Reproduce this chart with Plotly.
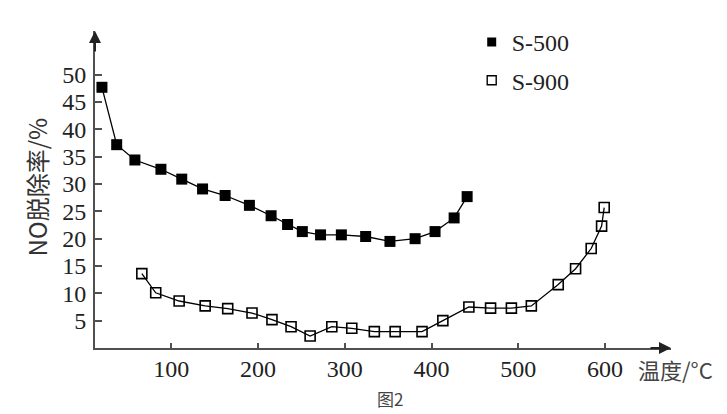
import plotly.graph_objects as go

# Data
temp_s500 = [20, 37, 58, 88, 112, 136, 162, 190, 215, 234, 251, 272, 296, 324, 352, 381, 404, 426, 441]
no_s500 = [47.7, 37.2, 34.4, 32.7, 30.9, 29.1, 27.9, 26.1, 24.2, 22.6, 21.3, 20.7, 20.7, 20.4, 19.5, 20.0, 21.3, 23.8, 27.7]

temp_s900 = [66, 82, 109, 139, 165, 193, 216, 238, 260, 285, 308, 334, 358, 389, 413, 443, 468, 492, 515, 546, 566, 584, 596, 599]
no_s900 = [13.6, 10.1, 8.6, 7.7, 7.2, 6.4, 5.2, 3.9, 2.2, 3.9, 3.6, 3.0, 3.0, 3.0, 5.0, 7.5, 7.3, 7.3, 7.7, 11.6, 14.5, 18.2, 22.3, 25.7]

x_ticks = [100, 200, 300, 400, 500, 600]
y_ticks = [5, 10, 15, 20, 25, 30, 35, 40, 45, 50]
series_names = ["S-500", "S-900"]

SERIF = "Liberation Serif"
CJK = "Noto Sans CJK SC"
AX = "#505050"

fig = go.Figure()
fig.add_trace(go.Scatter(
    x=temp_s500, y=no_s500, mode="lines+markers", showlegend=False,
    line=dict(color="black", width=1.3),
    marker=dict(symbol="square", size=11, color="black"),
))
fig.add_trace(go.Scatter(
    x=temp_s900, y=no_s900, mode="lines+markers", showlegend=False,
    line=dict(color="black", width=1.3),
    marker=dict(symbol="square-open", size=10, color="black", line=dict(width=1.6)),
))
# legend-only entries
fig.add_trace(go.Scatter(
    x=[None], y=[None], mode="markers", name=series_names[0], legendgroup="a",
    marker=dict(symbol="square", size=9, color="black"),
))
fig.add_trace(go.Scatter(
    x=[None], y=[None], mode="markers", name=series_names[1], legendgroup="b",
    marker=dict(symbol="square-open", size=9, color="black", line=dict(width=1.4)),
))

fig.update_layout(
    width=727, height=414,
    margin=dict(l=87, r=64, t=12, b=74),
    paper_bgcolor="white", plot_bgcolor="white",
    font=dict(family=SERIF, size=24, color="#222"),
    legend=dict(
        x=0.654, y=1.035, xanchor="left", yanchor="top",
        font=dict(family=SERIF, size=24, color="#222"),
        bgcolor="rgba(0,0,0,0)", tracegroupgap=4,
        itemsizing="trace",
    ),
    xaxis=dict(
        range=[12, 676], tickvals=x_ticks, ticktext=[str(v) for v in x_ticks],
        showgrid=False, zeroline=False, showline=True, linecolor=AX, linewidth=2,
        ticks="inside", ticklen=5, tickwidth=1.5, tickcolor=AX,
        tickfont=dict(family=SERIF, size=24, color="#222"),
        ticklabelstandoff=-2,
    ),
    yaxis=dict(
        range=[0, 58], tickvals=y_ticks, ticktext=[str(v) for v in y_ticks],
        showgrid=False, zeroline=False, showline=True, linecolor=AX, linewidth=2,
        ticks="inside", ticklen=7, tickwidth=1.5, tickcolor=AX,
        tickfont=dict(family=SERIF, size=24, color="#222"),
        ticklabelstandoff=2,
    ),
)

# axis arrows
fig.add_annotation(x=0, y=1, xref="paper", yref="paper", ax=0, ay=22, text="",
                   showarrow=True, arrowhead=2, arrowsize=1.2, arrowwidth=2, arrowcolor="#222")
fig.add_annotation(x=1, y=0, xref="paper", yref="paper", ax=-22, ay=0, text="",
                   showarrow=True, arrowhead=2, arrowsize=1.2, arrowwidth=2, arrowcolor="#222")

# axis titles and caption
fig.add_annotation(x=-0.102, y=0.507, xref="paper", yref="paper", text="NO脱除率/%",
                   textangle=-90, showarrow=False, xanchor="center", yanchor="middle",
                   font=dict(family=CJK, size=24, color="#333"))
fig.add_annotation(x=0.939, y=-0.065, xref="paper", yref="paper", text="温度/°C",
                   showarrow=False, xanchor="left", yanchor="middle",
                   font=dict(family=CJK, size=22, color="#444"))
fig.add_annotation(x=0.512, y=-0.16, xref="paper", yref="paper", text="图2",
                   showarrow=False, xanchor="center", yanchor="middle",
                   font=dict(family=CJK, size=17, color="#444"))

fig.write_html("out.html")
